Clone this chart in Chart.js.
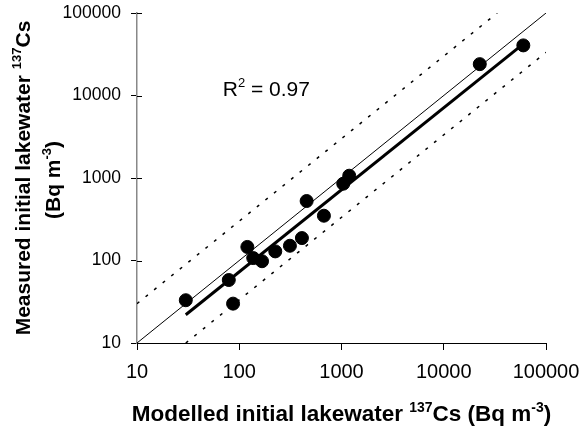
<!DOCTYPE html>
<html>
<head>
  <title>Modelled vs measured 137Cs</title>
  <script src="https://cdn.jsdelivr.net/npm/chart.js"></script>
  <style>
    body {
      margin: 0;
      background: white;
    }
    #wrap {
      width: 582px;
      height: 430px;
    }
  </style>
</head>
<body>
  <div id="wrap"><canvas id="csChart"></canvas></div>

  <script>
    // measured vs modelled initial lakewater 137Cs (Bq m-3)
    const modelled = [30, 79, 87, 120, 137, 167, 225, 313, 410, 456, 673, 1040, 1190, 22500, 60000];
    const measured = [33, 58, 30, 146, 107, 98, 129, 151, 187, 526, 349, 853, 1066, 24000, 40500];

    // 1:1 line, regression line and factor-3 bounds
    const oneToOneX = [10, 100000];
    const oneToOneY = [10, 100000];
    const fitX = [30, 56000];
    const fitY = [22, 39400];
    const upperX = [10, 33333];
    const upperY = [30, 100000];
    const lowerX = [30, 100000];
    const lowerY = [10, 33333];

    const xTickVals = [10, 100, 1000, 10000, 100000];
    const yTickVals = [10, 100, 1000, 10000, 100000];

    const rText = [{ t: 'R' }, { t: '2', sup: true }, { t: ' = 0.97' }];
    const rPos = { x: 69, y: 10000 };

    const xTitle = [{ t: 'Modelled initial lakewater ' }, { t: '137', sup: true }, { t: 'Cs (Bq m' }, { t: '-3', sup: true }, { t: ')' }];
    const yTitle1 = [{ t: 'Measured initial lakewater ' }, { t: '137', sup: true }, { t: 'Cs' }];
    const yTitle2 = [{ t: '(Bq m' }, { t: '-3', sup: true }, { t: ')' }];

    const FONT = '"Liberation Sans", Arial, sans-serif';

    function pts(xs, ys) {
      return xs.map((x, i) => ({ x: x, y: ys[i] }));
    }

    // draws text with superscripts; x,y is the left (or centre) at the baseline
    function drawRich(ctx, parts, size, weight, x, y, center) {
      const supSize = size * 0.62;
      let total = 0;
      parts.forEach(p => {
        ctx.font = weight + ' ' + (p.sup ? supSize : size) + 'px ' + FONT;
        p.w = ctx.measureText(p.t).width;
        total += p.w;
      });
      let cx = center ? x - total / 2 : x;
      ctx.textAlign = 'left';
      ctx.textBaseline = 'alphabetic';
      parts.forEach(p => {
        ctx.font = weight + ' ' + (p.sup ? supSize : size) + 'px ' + FONT;
        ctx.fillText(p.t, cx, p.sup ? y - size * 0.42 : y);
        cx += p.w;
      });
    }

    const titlePlugin = {
      id: 'titles',
      afterDraw(chart) {
        const ctx = chart.ctx;
        const area = chart.chartArea;
        const xs = chart.scales.x;
        const ys = chart.scales.y;
        ctx.save();
        ctx.fillStyle = '#000';
        ctx.strokeStyle = '#000';
        ctx.lineWidth = 1;

        // y ticks cross the axis
        yTickVals.forEach(v => {
          const py = Math.round(ys.getPixelForValue(v)) + 0.5;
          ctx.beginPath();
          ctx.moveTo(area.left, py);
          ctx.lineTo(area.left + 5, py);
          ctx.stroke();
        });

        // R squared label
        drawRich(ctx, rText, 21, 'normal', xs.getPixelForValue(rPos.x), ys.getPixelForValue(rPos.y), false);

        // x axis title
        drawRich(ctx, xTitle, 22.5, 'bold', (area.left + area.right) / 2, 421, true);

        // y axis title, two lines
        ctx.save();
        ctx.translate(30, 178);
        ctx.rotate(-Math.PI / 2);
        drawRich(ctx, yTitle1, 21, 'bold', 0, 0, true);
        ctx.restore();
        ctx.save();
        ctx.translate(60, 180);
        ctx.rotate(-Math.PI / 2);
        drawRich(ctx, yTitle2, 21, 'bold', 0, 0, true);
        ctx.restore();

        ctx.restore();
      }
    };

    const ctx = document.getElementById('csChart').getContext('2d');
    new Chart(ctx, {
      type: 'scatter',
      data: {
        datasets: [
          {
            label: 'Lakes',
            data: pts(modelled, measured),
            backgroundColor: '#000',
            borderColor: '#000',
            pointRadius: 6.5,
            pointHoverRadius: 6.5
          },
          {
            label: '1:1',
            data: pts(oneToOneX, oneToOneY),
            showLine: true,
            borderColor: '#000',
            borderWidth: 1,
            pointRadius: 0
          },
          {
            label: 'Fit',
            data: pts(fitX, fitY),
            showLine: true,
            borderColor: '#000',
            borderWidth: 3,
            pointRadius: 0
          },
          {
            label: 'x3',
            data: pts(upperX, upperY),
            showLine: true,
            borderColor: '#000',
            borderWidth: 1.5,
            borderDash: [3, 8],
            pointRadius: 0
          },
          {
            label: '/3',
            data: pts(lowerX, lowerY),
            showLine: true,
            borderColor: '#000',
            borderWidth: 1.5,
            borderDash: [3, 8],
            pointRadius: 0
          }
        ]
      },
      options: {
        responsive: true,
        maintainAspectRatio: false,
        animation: false,
        layout: {
          padding: { top: 13, right: 36, left: 0, bottom: 0 }
        },
        plugins: {
          legend: { display: false },
          tooltip: { enabled: false }
        },
        scales: {
          x: {
            type: 'logarithmic',
            min: 10,
            max: 100000,
            afterBuildTicks: (scale) => {
              scale.ticks = xTickVals.map(v => ({ value: v }));
            },
            afterFit: (scale) => {
              scale.height = 87;
              scale.paddingLeft = 0;
              scale.paddingRight = 0;
            },
            border: { color: '#000', width: 1 },
            grid: { drawOnChartArea: false, drawTicks: true, tickLength: 7, tickColor: '#000' },
            ticks: {
              color: '#000',
              padding: 10,
              maxRotation: 0,
              font: { family: FONT, size: 20 },
              callback: (v) => String(v)
            }
          },
          y: {
            type: 'logarithmic',
            min: 10,
            max: 100000,
            afterBuildTicks: (scale) => {
              scale.ticks = yTickVals.map(v => ({ value: v }));
            },
            afterFit: (scale) => {
              scale.width = 137;
              scale.paddingTop = 0;
              scale.paddingBottom = 0;
            },
            border: { color: '#888', width: 1.5 },
            grid: { drawOnChartArea: false, drawTicks: true, tickLength: 6, tickColor: '#000' },
            ticks: {
              color: '#000',
              padding: 10,
              font: { family: FONT, size: 17.5 },
              callback: (v) => String(v)
            }
          }
        }
      },
      plugins: [titlePlugin]
    });
  </script>
</body>
</html>
